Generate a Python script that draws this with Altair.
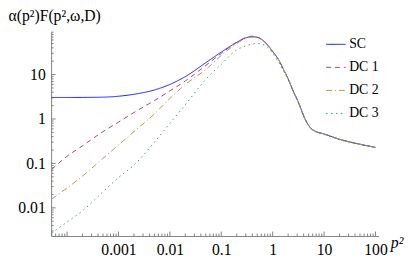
import altair as alt
import pandas as pd

# p^2 grid (shared by all series)
p2 = [5e-5, 1e-4, 2e-4, 5e-4, 1e-3, 2e-3, 5e-3, 0.01, 0.02, 0.05, 0.1, 0.2, 0.3,
      0.4, 0.5, 0.63, 0.8, 1.0, 1.32, 1.6, 2.0, 2.5, 3.2, 4.26, 5.0, 5.7, 7.0,
      10.0, 20.0, 50.0, 100.0]

sc = [3.05, 3.05, 3.06, 3.1, 3.25, 3.6, 4.5, 6.0, 9.0, 18.5, 32, 53, 67,
      71, 69, 60, 46, 33, 21, 13.5, 8.0, 4.3, 2.3, 1.0, 0.72, 0.6, 0.52,
      0.46, 0.35, 0.27, 0.23]
dc1 = [0.073, 0.145, 0.25, 0.52, 0.85, 1.4, 2.6, 4.3, 7.2, 16, 30, 53, 68,
       73, 70, 60, 46, 33, 21, 13.5, 8.0, 4.3, 2.3, 1.0, 0.72, 0.6, 0.52,
       0.46, 0.35, 0.27, 0.23]
dc2 = [0.0158, 0.028, 0.052, 0.13, 0.26, 0.52, 1.3, 2.9, 6.0, 13, 27, 50, 65,
       70, 69, 60, 46, 33, 21, 13.5, 8.0, 4.3, 2.3, 1.0, 0.72, 0.6, 0.52,
       0.46, 0.35, 0.27, 0.23]
dc3 = [0.0027, 0.0048, 0.0086, 0.023, 0.048, 0.092, 0.3, 0.8, 2.1, 7.8, 17, 36, 44,
       48.5, 50, 48, 41, 30, 18.5, 12.5, 7.8, 4.2, 2.25, 1.0, 0.71, 0.59, 0.51,
       0.45, 0.34, 0.27, 0.23]

series_names = ["SC", "DC 1", "DC 2", "DC 3"]
series_colors = ["#1a1aff", "#a8447a", "#b39a45", "#3f9e5e"]
series_dash = [[1, 0], [5, 4], [6, 3, 1, 3], [1.5, 3.5]]

x_major = [1e-4, 1e-3, 1e-2, 1e-1, 1, 10, 100]
x_labels = [1e-3, 1e-2, 1e-1, 1, 10, 100]
y_major = [0.01, 0.1, 1, 10]

x_minor = [m * 10.0 ** e for e in range(-5, 2) for m in range(2, 10)
           if 4.9e-5 <= m * 10.0 ** e <= 114]
y_minor = [m * 10.0 ** e for e in range(-3, 2) for m in range(2, 10)
           if 0.00233 <= m * 10.0 ** e <= 90]

rows = []
for name, vals in zip(series_names, [sc, dc1, dc2, dc3]):
    for x, v in zip(p2, vals):
        rows.append({"p2": x, "val": v, "series": name})
df = pd.DataFrame(rows)

XDOM = [4.9e-5, 114.8]
YDOM = [0.00233, 90.4]
W, H = 334, 208
FONT = "Liberation Serif"

xs = alt.Scale(type="log", domain=XDOM, nice=False)
ys = alt.Scale(type="log", domain=YDOM, nice=False)

legend_cfg = dict(title=None, orient="none", legendX=280, legendY=2,
                  symbolType="stroke", symbolSize=400, symbolStrokeWidth=1,
                  labelFont=FONT, labelFontSize=14, labelColor="black",
                  labelOffset=3, rowPadding=5.5, padding=0)

lines = alt.Chart(df).mark_line(interpolate="monotone", strokeWidth=1, clip=True).encode(
    x=alt.X("p2:Q", scale=xs,
            axis=alt.Axis(values=x_labels, format="~g", ticks=False, grid=False,
                          domainColor="#808080", labelFont=FONT, labelFontSize=16,
                          labelColor="black", labelPadding=6, labelFlush=False,
                          title="p²", titleFont=FONT, titleFontSize=16,
                          titleFontStyle="italic", titleFontWeight="normal",
                          titleX=346, titleY=12, titleAlign="left",
                          titleBaseline="alphabetic", titleColor="black")),
    y=alt.Y("val:Q", scale=ys,
            axis=alt.Axis(values=y_major, format="~g", ticks=False, grid=False,
                          domainColor="#808080", labelFont=FONT, labelFontSize=16,
                          labelColor="black", labelPadding=6, labelFlush=False,
                          title="α(p²)F(p²,ω,D)", titleFont=FONT, titleFontSize=16,
                          titleFontWeight="normal", titleAngle=0,
                          titleX=-44, titleY=-12, titleAlign="left",
                          titleBaseline="alphabetic", titleColor="black")),
    color=alt.Color("series:N", scale=alt.Scale(domain=series_names, range=series_colors),
                    legend=alt.Legend(**legend_cfg)),
    strokeDash=alt.StrokeDash("series:N",
                              scale=alt.Scale(domain=series_names, range=series_dash),
                              legend=alt.Legend(**legend_cfg)),
    order=alt.Order("p2:Q"),
)

tick_color = "#808080"
xmaj = alt.Chart(pd.DataFrame({"t": x_major})).mark_rule(color=tick_color, strokeWidth=1).encode(
    x=alt.X("t:Q", scale=xs), y=alt.value(H), y2=alt.value(H - 4.5))
xmin = alt.Chart(pd.DataFrame({"t": x_minor})).mark_rule(color=tick_color, strokeWidth=1).encode(
    x=alt.X("t:Q", scale=xs), y=alt.value(H), y2=alt.value(H - 2.5))
ymaj = alt.Chart(pd.DataFrame({"t": y_major})).mark_rule(color=tick_color, strokeWidth=1).encode(
    y=alt.Y("t:Q", scale=ys), x=alt.value(0), x2=alt.value(4.5))
ymin = alt.Chart(pd.DataFrame({"t": y_minor})).mark_rule(color=tick_color, strokeWidth=1).encode(
    y=alt.Y("t:Q", scale=ys), x=alt.value(0), x2=alt.value(2.5))

chart = alt.layer(xmaj, xmin, ymaj, ymin, lines).properties(
    width=W, height=H,
    autosize=alt.AutoSizeParams(type="none"),
    padding={"left": 44, "top": 22, "right": 29, "bottom": 25},
).configure_view(stroke=None).configure_axis(domainWidth=1)

chart.save("out.html", embed_options={"renderer": "svg", "actions": False})
